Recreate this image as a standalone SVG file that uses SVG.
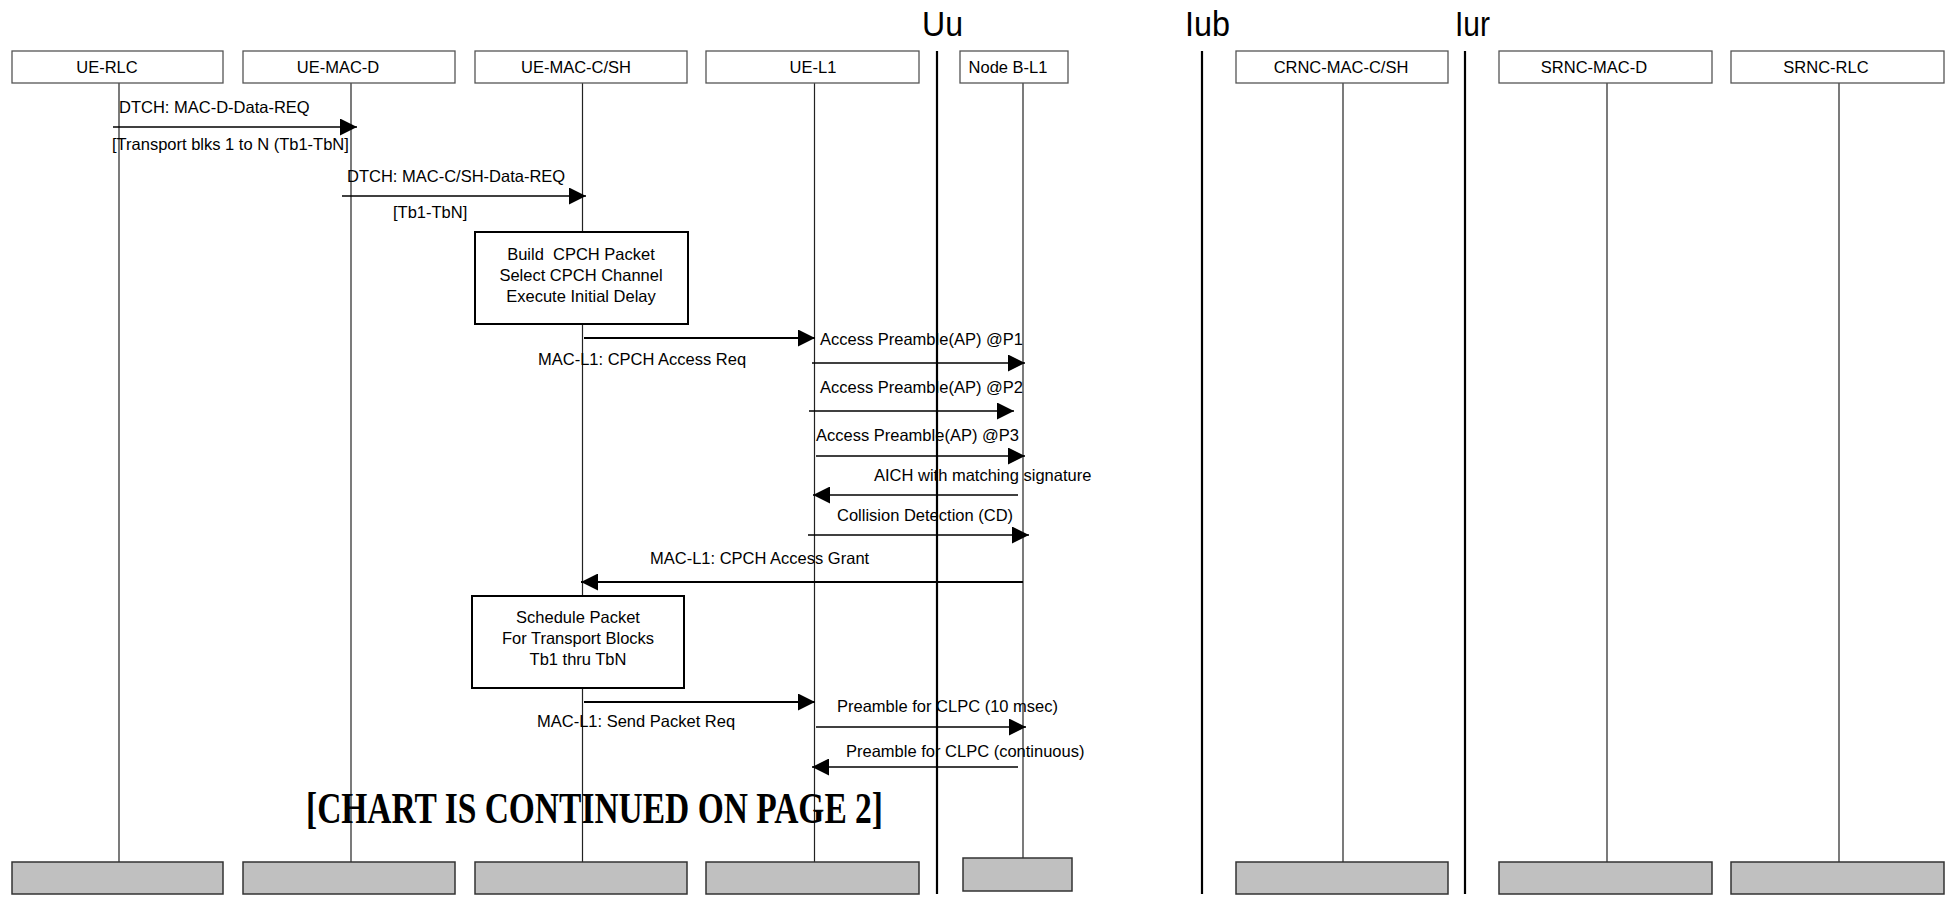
<svg xmlns="http://www.w3.org/2000/svg" width="1946" height="901" viewBox="0 0 1946 901">
<style>
text{font-family:"Liberation Sans",Arial,sans-serif;font-size:16.5px;fill:#000}
.head{fill:#fff;stroke:#555;stroke-width:1.3}
.foot{fill:#c0c0c0;stroke:#333;stroke-width:1.5}
.life{stroke:#222;stroke-width:1.2}
.iface{stroke:#000;stroke-width:2.2}
.proc{fill:#fff;stroke:#000;stroke-width:2}
.msg{stroke:#000;stroke-width:1.3;marker-end:url(#ah)}
.msgb{stroke:#000;stroke-width:2.2;marker-end:url(#ah)}
.mid{text-anchor:middle}
.big{font-size:35px}
.chart{font-family:"Liberation Serif","Times New Roman",serif;font-weight:bold;font-size:45px}
</style>
<defs>
<marker id="ah" markerUnits="userSpaceOnUse" markerWidth="17" markerHeight="17" refX="17" refY="8.5" orient="auto">
<path d="M0,0 L17,8.5 L0,17 z" fill="#000"/>
</marker>
</defs>
<rect width="1946" height="901" fill="#fff"/>

<g id="interfaces">
<line class="iface" x1="937" y1="51" x2="937" y2="894"/>
<line class="iface" x1="1202" y1="51" x2="1202" y2="894"/>
<line class="iface" x1="1465" y1="51" x2="1465" y2="894"/>
<text class="big" x="922" y="36" textLength="41" lengthAdjust="spacingAndGlyphs">Uu</text>
<text class="big" x="1185" y="36" textLength="45" lengthAdjust="spacingAndGlyphs">Iub</text>
<text class="big" x="1455" y="36" textLength="35" lengthAdjust="spacingAndGlyphs">Iur</text>
</g>

<g id="ue-rlc">
<line class="life" x1="119" y1="83" x2="119" y2="862"/>
<rect class="head" x="12" y="51" width="211" height="32"/>
<text class="mid" x="107" y="73">UE-RLC</text>
<rect class="foot" x="12" y="862" width="211" height="32"/>
</g>
<g id="ue-mac-d">
<line class="life" x1="351" y1="83" x2="351" y2="862"/>
<rect class="head" x="243" y="51" width="212" height="32"/>
<text class="mid" x="338" y="73">UE-MAC-D</text>
<rect class="foot" x="243" y="862" width="212" height="32"/>
</g>
<g id="ue-mac-c-sh">
<line class="life" x1="582.5" y1="83" x2="582.5" y2="862"/>
<rect class="head" x="475" y="51" width="212" height="32"/>
<text class="mid" x="576" y="73">UE-MAC-C/SH</text>
<rect class="foot" x="475" y="862" width="212" height="32"/>
</g>
<g id="ue-l1">
<line class="life" x1="814.5" y1="83" x2="814.5" y2="862"/>
<rect class="head" x="706" y="51" width="213" height="32"/>
<text class="mid" x="813" y="73">UE-L1</text>
<rect class="foot" x="706" y="862" width="213" height="32"/>
</g>
<g id="node-b-l1">
<line class="life" x1="1023" y1="83" x2="1023" y2="858"/>
<rect class="head" x="960" y="51" width="108" height="32"/>
<text class="mid" x="1008" y="73">Node B-L1</text>
<rect class="foot" x="963" y="858" width="109" height="33"/>
</g>
<g id="crnc-mac-c-sh">
<line class="life" x1="1343" y1="83" x2="1343" y2="862"/>
<rect class="head" x="1236" y="51" width="212" height="32"/>
<text class="mid" x="1341" y="73">CRNC-MAC-C/SH</text>
<rect class="foot" x="1236" y="862" width="212" height="32"/>
</g>
<g id="srnc-mac-d">
<line class="life" x1="1607" y1="83" x2="1607" y2="862"/>
<rect class="head" x="1499" y="51" width="213" height="32"/>
<text class="mid" x="1594" y="73">SRNC-MAC-D</text>
<rect class="foot" x="1499" y="862" width="213" height="32"/>
</g>
<g id="srnc-rlc">
<line class="life" x1="1839" y1="83" x2="1839" y2="862"/>
<rect class="head" x="1731" y="51" width="213" height="32"/>
<text class="mid" x="1826" y="73">SRNC-RLC</text>
<rect class="foot" x="1731" y="862" width="213" height="32"/>
</g>

<g id="build-box">
<rect class="proc" x="475" y="232" width="213" height="92"/>
<text class="mid" x="581" y="260" xml:space="preserve">Build  CPCH Packet</text>
<text class="mid" x="581" y="281">Select CPCH Channel</text>
<text class="mid" x="581" y="302">Execute Initial Delay</text>
</g>
<g id="schedule-box">
<rect class="proc" x="472" y="596" width="212" height="92"/>
<text class="mid" x="578" y="623">Schedule Packet</text>
<text class="mid" x="578" y="644">For Transport Blocks</text>
<text class="mid" x="578" y="665">Tb1 thru TbN</text>
</g>

<g id="connectors">
<line class="msg" x1="113" y1="127" x2="357" y2="127"/>
<line class="msg" x1="342" y1="196" x2="586" y2="196"/>
<line class="msgb" x1="584" y1="338" x2="815" y2="338"/>
<line class="msg" x1="812" y1="363" x2="1025" y2="363"/>
<line class="msg" x1="809" y1="411" x2="1014" y2="411"/>
<line class="msg" x1="816" y1="456" x2="1025" y2="456"/>
<line class="msg" x1="1018" y1="495" x2="813" y2="495"/>
<line class="msg" x1="808" y1="535" x2="1029" y2="535"/>
<line class="msgb" x1="1023" y1="582" x2="581" y2="582"/>
<line class="msgb" x1="584" y1="702" x2="815" y2="702"/>
<line class="msg" x1="816" y1="727" x2="1026" y2="727"/>
<line class="msg" x1="1018" y1="767" x2="812" y2="767"/>
</g>

<g id="labels">
<text x="119" y="113">DTCH: MAC-D-Data-REQ</text>
<text x="112" y="150">[Transport blks 1 to N (Tb1-TbN]</text>
<text x="347" y="182">DTCH: MAC-C/SH-Data-REQ</text>
<text x="393" y="218">[Tb1-TbN]</text>
<text x="538" y="365">MAC-L1: CPCH Access Req</text>
<text x="820" y="345">Access Preamble(AP) @P1</text>
<text x="820" y="393">Access Preamble(AP) @P2</text>
<text x="816" y="441">Access Preamble(AP) @P3</text>
<text x="874" y="481">AICH with matching signature</text>
<text x="837" y="521">Collision Detection (CD)</text>
<text x="650" y="564">MAC-L1: CPCH Access Grant</text>
<text x="537" y="727">MAC-L1: Send Packet Req</text>
<text x="837" y="712">Preamble for CLPC (10 msec)</text>
<text x="846" y="757">Preamble for CLPC (continuous)</text>
<text class="chart" x="306" y="823" textLength="577" lengthAdjust="spacingAndGlyphs">[CHART IS CONTINUED ON PAGE 2]</text>
</g>
</svg>
